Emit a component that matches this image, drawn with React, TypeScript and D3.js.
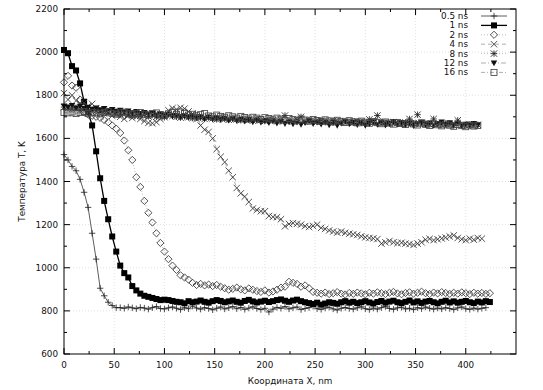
import * as d3 from 'd3';
import React from 'react';

const STEP = 4; // sampling step along X, nm

const t05 = [
  1525, 1500, 1470, 1450, 1410, 1350, 1280, 1160, 1040, 905, 870, 840, 825, 815,
  815, 812, 818, 814, 810, 816, 813, 808, 815, 820, 811, 809, 814, 818, 812, 806, 815, 810, 822, 813,
  808, 815, 811, 805, 812, 818, 809, 814, 820, 810, 816, 807, 813, 819, 811, 806, 812, 795, 808, 816,
  812, 820, 809, 814, 818, 806, 811, 815, 821, 810, 807, 813, 817, 809, 804, 812, 816, 811, 808, 814,
  819, 810, 806, 813, 808, 815, 820, 811, 807, 814, 817, 809, 812, 806, 815, 810, 818, 812, 808, 813,
  809, 815, 811, 806, 814, 818, 810, 807, 813, 808, 812, 815,
];

const t1 = [
  2010, 1995, 1935, 1915, 1855, 1770, 1720, 1660, 1540, 1415, 1310, 1225, 1145, 1075, 1010, 975,
  955, 915, 895, 880, 870, 865, 860, 855, 850, 852, 850, 846, 842, 840, 835,
  845, 840, 843, 848, 842, 838, 845, 850, 846, 840, 844, 848, 842, 838, 846, 851, 844, 839, 843, 847,
  841, 845, 850, 853, 847, 842, 848, 852, 845, 840, 836, 832, 838, 829, 834, 840, 837, 833, 840, 845,
  838, 842, 836, 840, 845, 839, 834, 841, 846, 838, 843, 847, 840, 836, 842, 848, 839, 844, 837, 843,
  846, 840, 835, 842, 847, 839, 844, 838, 842, 846, 840, 836, 843, 839, 845, 841,
];

const t2 = [
  1860, 1890, 1845, 1835, 1780, 1720, 1710, 1705, 1700, 1695, 1685, 1675, 1660, 1645, 1625, 1590,
  1545, 1500, 1420, 1375, 1310, 1255, 1210, 1160, 1115, 1075, 1040, 1010, 990, 965, 955, 945, 930, 920,
  925, 918, 922, 915, 920, 912, 905, 898, 902, 908,
  900, 895, 904, 898, 892, 888, 895, 885, 890, 898,
  908, 912, 935, 930, 925, 912, 918, 905, 888, 884,
  880, 885, 878, 882, 887, 880, 876, 883, 879, 885, 881, 877, 884, 880, 886, 882, 878, 884, 888, 881,
  877, 883, 886, 880, 884, 889, 882, 878, 885, 881, 887, 883, 879, 884, 880, 886, 882, 878, 884, 880,
  883, 879, 882,
];

const t4 = [
  1810, 1780, 1800, 1775, 1760, 1765, 1750, 1760, 1740, 1725, 1715, 1720, 1705, 1710, 1700, 1690,
  1705, 1695, 1700, 1690, 1680, 1672, 1670, 1675, 1690, 1705, 1730, 1740, 1735, 1742, 1738, 1725,
  1715, 1690, 1660, 1640, 1630, 1600, 1550, 1515, 1490, 1450, 1420, 1370, 1345, 1330, 1305, 1275,
  1268, 1262, 1262, 1240, 1236, 1234, 1225, 1192, 1203, 1207, 1204, 1200, 1193, 1189, 1194, 1200,
  1185, 1180, 1173, 1168, 1163, 1168, 1162, 1158, 1155, 1152, 1146, 1141, 1138, 1136, 1133, 1112,
  1118, 1124, 1118, 1114, 1116, 1112, 1110, 1106, 1112, 1118, 1130, 1134, 1128, 1132, 1136, 1140,
  1145, 1150, 1138, 1132, 1128, 1135, 1130, 1138, 1135,
];

const t8 = [
  1745, 1740, 1735, 1742, 1730, 1738, 1725, 1732, 1728, 1720, 1725, 1718, 1722, 1715, 1712, 1718, 1710, 1706, 1712, 1705,
  1710, 1702, 1708, 1700, 1705, 1698, 1712, 1704, 1700, 1696, 1702, 1698, 1694, 1700, 1696, 1690, 1697, 1693, 1688, 1695,
  1690, 1686, 1693, 1688, 1684, 1690, 1686, 1682, 1689, 1685, 1680, 1688, 1684, 1679, 1686, 1706, 1683, 1678, 1685, 1700,
  1677, 1684, 1680, 1676, 1683, 1679, 1675, 1682, 1678, 1673, 1680, 1676, 1672, 1679, 1675, 1671, 1688, 1674, 1706, 1676,
  1672, 1668, 1675, 1671, 1667, 1674, 1690, 1670, 1710, 1672, 1668, 1664, 1690, 1666, 1662, 1668, 1664, 1660, 1684, 1662,
  1658, 1664, 1660, 1663,
];

const t12 = [
  1750, 1745, 1752, 1740, 1748, 1738, 1744, 1735, 1740, 1732, 1738, 1728, 1734, 1725, 1730, 1722, 1726, 1718, 1724, 1715,
  1720, 1712, 1716, 1708, 1713, 1705, 1710, 1702, 1707, 1700, 1705, 1697, 1703, 1694, 1700, 1692, 1698, 1689, 1695, 1686,
  1693, 1684, 1690, 1681, 1688, 1679, 1686, 1676, 1684, 1674, 1682, 1672, 1680, 1670, 1678, 1668, 1676, 1666, 1674, 1664,
  1672, 1680, 1668, 1676, 1665, 1674, 1662, 1672, 1660, 1670, 1678, 1666, 1674, 1663, 1671, 1660, 1668, 1676, 1664, 1672,
  1661, 1669, 1677, 1665, 1673, 1662, 1670, 1658, 1667, 1675, 1663, 1671, 1660, 1668, 1676, 1664, 1672, 1661, 1669, 1657,
  1665, 1660, 1668, 1662,
];

const t16 = [
  1720, 1718, 1722, 1715, 1720, 1724, 1716, 1721, 1718, 1714, 1720, 1725, 1716, 1712, 1719, 1722, 1714, 1710, 1716, 1720,
  1712, 1708, 1715, 1718, 1710, 1706, 1714, 1720, 1712, 1722, 1716, 1708, 1712, 1705, 1710, 1715, 1704, 1700, 1708, 1702,
  1698, 1705, 1700, 1694, 1702, 1697, 1690, 1698, 1694, 1688, 1696, 1692, 1686, 1694, 1689, 1684, 1692, 1687, 1682, 1690,
  1685, 1680, 1688, 1683, 1678, 1686, 1681, 1676, 1684, 1679, 1674, 1682, 1677, 1672, 1680, 1675, 1670, 1678, 1673, 1668,
  1676, 1671, 1666, 1674, 1669, 1664, 1672, 1667, 1662, 1670, 1665, 1660, 1668, 1663, 1658, 1666, 1661, 1656, 1664, 1659,
  1654, 1662, 1657, 1660,
];

const labels = ['0.5 ns', '1 ns', '2 ns', '4 ns', '8 ns', '12 ns', '16 ns'];
const seriesValues = [t05, t1, t2, t4, t8, t12, t16];
const xTicks = [0, 50, 100, 150, 200, 250, 300, 350, 400];
const yTicks = [600, 800, 1000, 1200, 1400, 1600, 1800, 2000, 2200];

type Sym = 'plus' | 'fsquare' | 'diamond' | 'cross' | 'star' | 'ftri' | 'osquare';
const styles: { sym: Sym; stroke: string; width: number; dash?: string }[] = [
  { sym: 'plus', stroke: '#333', width: 0.8 },
  { sym: 'fsquare', stroke: '#000', width: 1.3 },
  { sym: 'diamond', stroke: '#aaa', width: 0.8, dash: '1,2' },
  { sym: 'cross', stroke: '#999', width: 0.8, dash: '4,3' },
  { sym: 'star', stroke: '#aaa', width: 0.8, dash: '1,2' },
  { sym: 'ftri', stroke: '#999', width: 0.8, dash: '5,2,1,2' },
  { sym: 'osquare', stroke: '#999', width: 0.8, dash: '4,2,1,2' },
];

const W = 543;
const H = 390;
const font = 'DejaVu Sans, sans-serif';

function Marker({ sym, x, y }: { sym: Sym; x: number; y: number }) {
  const h = 3.2;
  const c = '#222';
  switch (sym) {
    case 'plus':
      return <path d={`M${x - h},${y}H${x + h}M${x},${y - h}V${y + h}`} stroke={c} strokeWidth={0.8} />;
    case 'fsquare':
      return <rect x={x - 3} y={y - 3} width={6} height={6} fill="#000" />;
    case 'diamond':
      return (
        <path d={`M${x},${y - 3.6}L${x + 3.6},${y}L${x},${y + 3.6}L${x - 3.6},${y}Z`} fill="none" stroke="#333" strokeWidth={0.85} />
      );
    case 'cross':
      return <path d={`M${x - h},${y - h}L${x + h},${y + h}M${x - h},${y + h}L${x + h},${y - h}`} stroke="#333" strokeWidth={0.85} />;
    case 'star':
      return (
        <path
          d={`M${x - h},${y - h}L${x + h},${y + h}M${x - h},${y + h}L${x + h},${y - h}M${x - h},${y}H${x + h}M${x},${y - h}V${y + h}`}
          stroke={c}
          strokeWidth={0.85}
        />
      );
    case 'ftri':
      return <path d={`M${x - 3.2},${y - 2.6}L${x + 3.2},${y - 2.6}L${x},${y + 3.2}Z`} fill="#111" />;
    case 'osquare':
      return <rect x={x - 3} y={y - 3} width={6} height={6} fill="none" stroke="#444" strokeWidth={0.85} />;
  }
}

const App = () => {
  const left = 64;
  const right = 516;
  const top = 9;
  const bottom = 354;

  const x = d3.scaleLinear().domain([0, 450]).range([left, right]);
  const y = d3.scaleLinear().domain([600, 2200]).range([bottom, top]);

  const line = d3
    .line<number>()
    .x((_, i) => x(i * STEP))
    .y((d) => y(d));

  const xMinor = d3.range(25, 450, 50);
  const yMinor = d3.range(700, 2200, 200);

  return (
    <svg width={W} height={H} style={{ position: 'absolute', left: 0, top: 0, background: '#fff' }}>
      {/* grid */}
      {xTicks.slice(1).map((t) => (
        <line key={'gx' + t} x1={x(t)} x2={x(t)} y1={top} y2={bottom} stroke="#ccc" strokeWidth={0.6} strokeDasharray="1,2" />
      ))}
      {yTicks.slice(1, -1).map((t) => (
        <line key={'gy' + t} x1={left} x2={right} y1={y(t)} y2={y(t)} stroke="#ccc" strokeWidth={0.6} strokeDasharray="1,2" />
      ))}

      {/* series */}
      {seriesValues.map((vals, si) => {
        const st = styles[si];
        return (
          <g key={labels[si]}>
            <path d={line(vals) ?? ''} fill="none" stroke={st.stroke} strokeWidth={st.width} strokeDasharray={st.dash} />
            {vals.map((v, i) => (
              <Marker key={i} sym={st.sym} x={x(i * STEP)} y={y(v)} />
            ))}
          </g>
        );
      })}

      {/* ticks */}
      <g stroke="#000" strokeWidth={1}>
        {xTicks.map((t) => (
          <g key={'tx' + t}>
            <line x1={x(t)} x2={x(t)} y1={bottom} y2={bottom - 6} />
            <line x1={x(t)} x2={x(t)} y1={top} y2={top + 6} />
          </g>
        ))}
        {xMinor.map((t) => (
          <g key={'mx' + t}>
            <line x1={x(t)} x2={x(t)} y1={bottom} y2={bottom - 3} />
            <line x1={x(t)} x2={x(t)} y1={top} y2={top + 3} />
          </g>
        ))}
        {yTicks.map((t) => (
          <g key={'ty' + t}>
            <line x1={left} x2={left + 6} y1={y(t)} y2={y(t)} />
            <line x1={right} x2={right - 6} y1={y(t)} y2={y(t)} />
          </g>
        ))}
        {yMinor.map((t) => (
          <g key={'my' + t}>
            <line x1={left} x2={left + 3} y1={y(t)} y2={y(t)} />
            <line x1={right} x2={right - 3} y1={y(t)} y2={y(t)} />
          </g>
        ))}
      </g>
      <rect x={left} y={top} width={right - left} height={bottom - top} fill="none" stroke="#000" strokeWidth={1} />

      {/* tick labels */}
      <g fontFamily={font} fontSize={8.8} fill="#111">
        {xTicks.map((t) => (
          <text key={'lx' + t} x={x(t)} y={bottom + 14} textAnchor="middle">
            {t}
          </text>
        ))}
        {yTicks.map((t) => (
          <text key={'ly' + t} x={left - 6} y={y(t) + 3} textAnchor="end">
            {t}
          </text>
        ))}
        <text x={(left + right) / 2} y={384} textAnchor="middle">
          Координата X, nm
        </text>
        <text transform={`translate(25,${(top + bottom) / 2}) rotate(-90)`} textAnchor="middle">
          Температура T, K
        </text>
      </g>

      {/* legend */}
      <g fontFamily={font} fontSize={8.8} fill="#111">
        {labels.map((lab, i) => {
          const ly = 16 + i * 9.4;
          const st = styles[i];
          return (
            <g key={'lg' + lab}>
              <text x={468} y={ly + 3} textAnchor="end">
                {lab}
              </text>
              <line x1={481} x2={507} y1={ly} y2={ly} stroke={st.stroke} strokeWidth={st.width} strokeDasharray={st.dash} />
              <Marker sym={st.sym} x={494} y={ly} />
            </g>
          );
        })}
      </g>
    </svg>
  );
};

export default App;
